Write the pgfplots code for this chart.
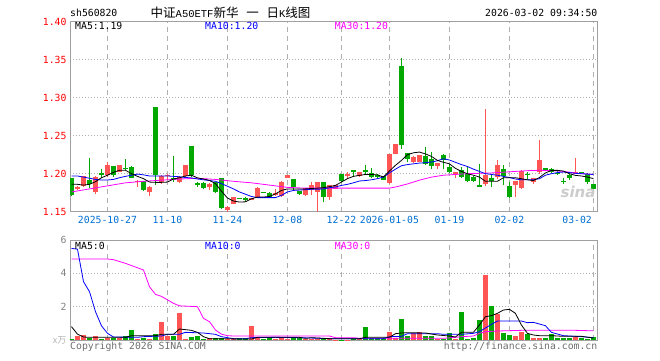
\documentclass[border=0pt]{standalone}
\usepackage{pgfplots}
\usepackage{pgfplotstable}
\pgfplotsset{compat=1.18}
\usepackage{fontspec}
\setmainfont{DejaVu Sans}
\newfontfamily\mono{DejaVu Sans Mono}
\newfontfamily\cmono{Liberation Mono}
\newfontfamily\cjk{Noto Sans CJK SC}
\definecolor{kred}{RGB}{255,85,85}
\definecolor{kgreen}{RGB}{0,168,0}
\definecolor{tickblue}{RGB}{0,110,210}
\definecolor{framegray}{RGB}{160,160,160}
\definecolor{gridgray}{RGB}{175,175,175}
\definecolor{txtgray}{RGB}{110,110,110}
\definecolor{mablue}{RGB}{0,0,255}
\definecolor{mamag}{RGB}{255,0,255}

\pgfplotstableread{
i o h l c v
1 1.1810 1.1840 1.1790 1.1825 0.24
2 1.1840 1.1975 1.1830 1.1970 0.30
4 1.1763 1.1965 1.1737 1.1956 0.24
6 1.1982 1.2158 1.1960 1.2114 0.14
8 1.2026 1.2118 1.2020 1.2114 0.10
11 1.1895 1.1920 1.1820 1.1908 0.06
13 1.1763 1.1840 1.1706 1.1825 0.06
15 1.1886 1.1980 1.1860 1.1970 1.08
16 1.1970 1.1995 1.1920 1.1985 0.24
18 1.1886 1.1970 1.1875 1.1960 1.62
19 1.1970 1.2120 1.1960 1.2114 0.06
23 1.1825 1.1875 1.1790 1.1868 0.10
26 1.1522 1.1570 1.1496 1.1568 0.04
27 1.1605 1.1700 1.1595 1.1698 0.04
30 1.1654 1.1680 1.1650 1.1676 0.86
31 1.1697 1.1822 1.1692 1.1816 0.10
34 1.1715 1.1803 1.1710 1.1740 0.04
35 1.1707 1.1905 1.1700 1.1895 0.14
36 1.1947 1.1985 1.1945 1.1983 0.06
39 1.1720 1.1815 1.1712 1.1808 0.06
40 1.1780 1.1890 1.1715 1.1850 0.04
41 1.1763 1.1895 1.1500 1.1895 0.04
43 1.1693 1.1846 1.1650 1.1846 0.10
44 1.1803 1.1846 1.1800 1.1846 0.02
46 1.1975 1.2025 1.1930 1.1990 0.02
48 1.1965 1.2018 1.1963 1.2017 0.06
53 1.1877 1.2254 1.1868 1.2254 0.48
54 1.2263 1.2388 1.2262 1.2386 0.10
57 1.2153 1.2228 1.2145 1.2219 0.44
58 1.2153 1.2245 1.2150 1.2241 0.46
61 1.2101 1.2145 1.2066 1.2140 0.06
64 1.2005 1.2022 1.1945 1.2018 0.06
69 1.1859 1.2850 1.1833 1.1978 3.92
71 1.1956 1.2176 1.1934 1.2110 1.56
74 1.1846 1.1903 1.1690 1.1903 0.24
75 1.1815 1.2044 1.1800 1.2035 0.50
77 1.1890 1.1947 1.1860 1.1947 0.14
78 1.2022 1.2440 1.2000 1.2185 0.10
84 1.2000 1.2211 1.1995 1.2022 0.20
}\upK

\pgfplotstableread{
i o h l c v
0 1.1940 1.1950 1.1710 1.1720 0.06
3 1.1915 1.2210 1.1810 1.1860 0.14
5 1.2005 1.2060 1.1950 1.1992 0.06
7 1.2100 1.2105 1.1960 1.1980 0.10
9 1.2080 1.2190 1.2050 1.2060 0.24
10 1.2090 1.2095 1.1940 1.1947 0.60
12 1.1904 1.1904 1.1772 1.1785 0.14
14 1.2877 1.2880 1.1850 1.1980 0.36
17 1.1947 1.2230 1.1895 1.1920 0.26
20 1.2364 1.2366 1.1960 1.1980 0.18
21 1.1875 1.1890 1.1830 1.1860 0.24
22 1.1877 1.1890 1.1800 1.1816 0.06
24 1.1890 1.1895 1.1746 1.1759 0.10
25 1.1938 1.1945 1.1530 1.1548 0.10
28 1.1682 1.1685 1.1665 1.1668 0.10
29 1.1684 1.1690 1.1630 1.1660 0.10
32 1.1762 1.1765 1.1748 1.1750 0.08
33 1.1748 1.1755 1.1685 1.1697 0.10
37 1.1930 1.1930 1.1776 1.1829 0.14
38 1.1772 1.1775 1.1720 1.1735 0.14
42 1.1895 1.1895 1.1630 1.1690 0.04
45 1.1995 1.2000 1.1890 1.1910 0.02
47 1.2044 1.2046 1.1956 1.2017 0.06
49 1.2045 1.2110 1.1985 1.2030 0.78
50 1.2013 1.2080 1.1943 1.1956 0.10
51 1.1975 1.1995 1.1940 1.1965 0.10
52 1.1965 1.1965 1.1915 1.1920 0.10
55 1.3412 1.3526 1.2330 1.2373 1.26
56 1.2276 1.2276 1.2153 1.2197 0.24
59 1.2228 1.2350 1.2110 1.2132 0.22
60 1.2197 1.2285 1.2066 1.2101 0.22
62 1.2241 1.2255 1.2066 1.2175 0.06
63 1.2088 1.2132 1.2013 1.2022 0.42
65 1.2044 1.2088 1.1947 1.1956 1.68
66 1.1991 1.2088 1.1890 1.1903 0.06
67 1.1956 1.1965 1.1890 1.1903 0.12
68 1.1845 1.2132 1.1824 1.1830 1.20
70 1.1947 1.1978 1.1824 1.1903 2.04
72 1.2066 1.2110 1.1846 1.1965 0.42
73 1.1833 1.1890 1.1683 1.1700 0.30
76 1.1995 1.2022 1.1934 1.1985 0.38
79 1.2072 1.2080 1.2048 1.2062 0.10
80 1.2066 1.2075 1.2009 1.2022 0.36
81 1.2015 1.2044 1.1978 1.2003 0.10
82 1.1905 1.1947 1.1867 1.1893 0.10
83 1.1978 1.2000 1.1912 1.1947 0.14
85 1.2015 1.2022 1.2000 1.2005 0.10
86 1.1991 1.2009 1.1868 1.1890 0.06
87 1.1868 1.1870 1.1800 1.1802 0.16
}\downK

\pgfplotstableread{
i ma
0 1.186
1 1.186
2 1.185
3 1.186
4 1.1895
5 1.1947
6 1.198
7 1.2018
8 1.2045
9 1.2045
10 1.200
11 1.1965
12 1.1935
13 1.189
14 1.1886
15 1.1886
16 1.189
17 1.193
18 1.1947
19 1.197
20 1.198
21 1.1945
22 1.193
23 1.1912
24 1.187
25 1.177
26 1.168
27 1.164
28 1.1627
29 1.163
30 1.167
31 1.1693
32 1.1693
33 1.170
34 1.1735
35 1.178
36 1.180
37 1.180
38 1.180
39 1.180
40 1.1805
41 1.181
42 1.1816
43 1.183
44 1.1846
45 1.189
46 1.1935
47 1.1965
48 1.1978
49 1.199
50 1.199
51 1.1985
52 1.1956
53 1.2035
54 1.211
55 1.2175
56 1.225
57 1.2275
58 1.2285
59 1.226
60 1.2228
61 1.2175
62 1.215
63 1.213
64 1.207
65 1.203
66 1.200
67 1.198
68 1.1956
69 1.190
70 1.190
71 1.190
72 1.1947
73 1.1947
74 1.1947
75 1.1934
76 1.192
77 1.191
78 1.195
79 1.201
80 1.2044
81 1.2044
82 1.2035
83 1.200
84 1.1978
85 1.197
86 1.1956
87 1.1935
}\maFive

\pgfplotstableread{
i ma
0 1.197
1 1.197
2 1.1955
3 1.194
4 1.1925
5 1.1917
6 1.1917
7 1.1925
8 1.1947
9 1.1965
10 1.198
11 1.1995
12 1.1985
13 1.197
14 1.197
15 1.197
16 1.197
17 1.1965
18 1.196
19 1.195
20 1.1945
21 1.193
22 1.192
23 1.191
24 1.190
25 1.187
26 1.1835
27 1.180
28 1.176
29 1.173
30 1.170
31 1.1685
32 1.1685
33 1.1685
34 1.1685
35 1.1715
36 1.176
37 1.178
38 1.1785
39 1.179
40 1.1795
41 1.1795
42 1.180
43 1.1815
44 1.1825
45 1.1846
46 1.186
47 1.188
48 1.1904
49 1.191
50 1.192
51 1.1935
52 1.1956
53 1.201
54 1.206
55 1.2105
56 1.212
57 1.213
58 1.214
59 1.2145
60 1.2154
61 1.217
62 1.2197
63 1.218
64 1.215
65 1.212
66 1.2095
67 1.206
68 1.203
69 1.200
70 1.199
71 1.198
72 1.1965
73 1.195
74 1.193
75 1.192
76 1.192
77 1.192
78 1.1934
79 1.198
80 1.200
81 1.2015
82 1.2022
83 1.2015
84 1.2005
85 1.200
86 1.1995
87 1.199
}\maTen

\pgfplotstableread{
i ma
0 1.176
3 1.180
6 1.184
9 1.188
12 1.190
15 1.1915
18 1.193
21 1.194
24 1.1925
27 1.190
30 1.188
33 1.185
36 1.182
39 1.181
53 1.181
54 1.1825
56 1.1865
58 1.1915
60 1.1955
62 1.198
64 1.199
66 1.200
68 1.2005
70 1.201
72 1.202
74 1.203
76 1.204
78 1.2045
80 1.204
82 1.203
84 1.201
86 1.1995
87 1.199
}\maThirty

\pgfplotstableread{
i ma
0 0.80
1 0.35
2 0.18
3 0.16
9 0.16
10 0.26
14 0.26
15 0.34
17 0.34
18 0.66
19 0.62
20 0.58
21 0.46
22 0.20
23 0.08
30 0.06
31 0.16
38 0.16
39 0.10
40 0.14
42 0.10
43 0.08
48 0.08
49 0.16
53 0.16
54 0.38
55 0.42
56 0.44
59 0.42
60 0.36
61 0.30
63 0.24
64 0.18
65 0.46
67 0.46
68 0.90
69 1.40
70 1.46
71 1.60
72 1.80
73 1.84
74 1.60
75 0.90
76 0.40
77 0.30
78 0.26
80 0.26
82 0.22
85 0.22
87 0.12
}\vmaFive

\pgfplotstableread{
i ma
0 5.50
1 5.45
2 3.50
3 2.90
4 1.70
5 0.85
6 0.40
7 0.18
11 0.16
12 0.20
15 0.24
16 0.34
18 0.34
19 0.46
22 0.42
24 0.34
25 0.20
26 0.14
27 0.08
29 0.08
30 0.14
34 0.16
38 0.14
43 0.08
52 0.08
53 0.20
55 0.22
56 0.38
61 0.38
62 0.34
65 0.34
67 0.40
68 0.50
70 0.94
71 1.14
75 1.14
76 1.04
77 1.06
79 0.86
80 0.46
82 0.26
85 0.20
87 0.14
}\vmaTen

\pgfplotstableread{
i ma
0 4.86
6 4.86
7 4.82
9 4.60
12 4.20
13 3.20
14 2.74
15 2.62
17 2.20
18 2.05
21 2.00
22 1.30
23 1.10
24 0.60
25 0.35
26 0.26
27 0.24
43 0.24
44 0.14
47 0.14
48 0.10
62 0.10
64 0.16
65 0.20
67 0.24
68 0.40
69 0.50
71 0.54
75 0.58
84 0.58
87 0.55
}\vmaThirty

\begin{document}
\begin{tikzpicture}
\pgfplotsset{
  kchart/.style={
    scale only axis, anchor=south west, width=527pt,
    xmin=-0.25, xmax=87.6,
    axis line style={framegray, line width=1pt},
    major tick length=0pt,
    xmajorgrids, ymajorgrids,
    x grid style={gridgray, line width=0.8pt, dash pattern=on 5pt off 4pt},
    y grid style={gridgray, line width=0.8pt, dash pattern=on 1pt off 2pt},
    /pgf/number format/assume math mode=true,
  },
  candle/.style n args={2}{draw=none, mark=none, forget plot,
    error bars/.cd, y dir=both, y explicit, error mark=none,
    error bar style={draw=#1, solid, line width=#2}},
}
% ---------- price panel ----------
\begin{axis}[kchart, at={(70pt,148.3pt)}, height=190pt,
  ymin=1.15, ymax=1.40,
  ytick={1.15,1.20,1.25,1.30,1.35,1.40},
  yticklabels={1.15,1.20,1.25,1.30,1.35,1.40},
  yticklabel style={font=\mono\fontsize{9.8}{10}\selectfont, text=red},
  xtick={6,16,26,36,45,53,63,73},
  xticklabels={2025-10-27,11-10,11-24,12-08,12-22,2026-01-05,01-19,02-02},
  xticklabel style={font=\mono\fontsize{9.8}{10}\selectfont, text=tickblue, yshift=-0.5pt},
  extra x ticks={87}, extra x tick labels={03-02},
  extra x tick style={grid=major, xticklabel style={anchor=north east, xshift=2pt}},
]
\addplot[candle={kred}{1pt}] table[x=i, y expr={(\thisrow{h}+\thisrow{l})/2}, y error expr={(\thisrow{h}-\thisrow{l})/2}] {\upK};
\addplot[candle={kgreen}{1pt}] table[x=i, y expr={(\thisrow{h}+\thisrow{l})/2}, y error expr={(\thisrow{h}-\thisrow{l})/2}] {\downK};
\addplot[candle={kred}{5pt}] table[x=i, y expr={(\thisrow{o}+\thisrow{c})/2}, y error expr={max(abs(\thisrow{c}-\thisrow{o})/2,0.00066)}] {\upK};
\addplot[candle={kgreen}{5pt}] table[x=i, y expr={(\thisrow{o}+\thisrow{c})/2}, y error expr={max(abs(\thisrow{c}-\thisrow{o})/2,0.00066)}] {\downK};
\addplot[mamag, line width=0.8pt, mark=none] table[x=i, y=ma] {\maThirty};
\addplot[mablue, line width=0.8pt, mark=none] table[x=i, y=ma] {\maTen};
\addplot[black, line width=0.8pt, mark=none] table[x=i, y=ma] {\maFive};
\end{axis}
% ---------- volume panel ----------
\begin{axis}[kchart, at={(70pt,20pt)}, height=100pt,
  ymin=0, ymax=6,
  ytick={0,2,4,6},
  yticklabels={{\color{gray!60}\cjk\fontsize{9}{10}\selectfont x万},2,4,6},
  yticklabel style={font=\mono\fontsize{9.8}{10}\selectfont, text=gray},
  xtick={6,16,26,36,45,53,63,73,87}, xticklabels={},
]
\addplot[ycomb, kred, line width=5pt, mark=none] table[x=i, y=v] {\upK};
\addplot[ycomb, kgreen, line width=5pt, mark=none] table[x=i, y=v] {\downK};
\addplot[mamag, line width=0.8pt, mark=none] table[x=i, y=ma] {\vmaThirty};
\addplot[mablue, line width=0.8pt, mark=none] table[x=i, y=ma] {\vmaTen};
\addplot[black, line width=0.8pt, mark=none] table[x=i, y=ma] {\vmaFive};
\end{axis}
% ---------- texts ----------
\begin{scope}[every node/.style={inner sep=0pt, font=\mono\fontsize{9.8}{10}\selectfont}]
\node[anchor=base west] at (70pt,343.3pt) {sh560820};
\node[anchor=base west, font=\cjk\fontsize{12.5}{13}\selectfont] at (150.5pt,343pt) {中证{\cmono\fontsize{10.5}{11}\selectfont A50ETF}新华\hspace{5pt} 一 \hspace{5pt}日{\cmono\fontsize{10.5}{11}\selectfont K}线图};
\node[anchor=base east] at (597.5pt,343.3pt) {2026-03-02 09:34:50};
\node[anchor=base west, text=black] at (75pt,330.7pt) {MA5:1.19};
\node[anchor=base west, text=mablue] at (205pt,330.7pt) {MA10:1.20};
\node[anchor=base west, text=mamag] at (334.7pt,330.7pt) {MA30:1.20};
\node[anchor=base west, text=black] at (75pt,110.7pt) {MA5:0};
\node[anchor=base west, text=mablue] at (205pt,110.7pt) {MA10:0};
\node[anchor=base west, text=mamag] at (334.7pt,110.7pt) {MA30:0};
\node[anchor=base west, text=txtgray] at (70pt,11pt) {Copyright 2026 SINA.COM};
\node[anchor=base east, text=txtgray] at (597.5pt,11pt) {http://finance.sina.com.cn};
\node[anchor=base, text=gray!40, font=\fontsize{15}{16}\selectfont\bfseries\itshape] at (578pt,163pt) {sina};
\end{scope}
\pgfresetboundingbox
\path[use as bounding box] (0,0) rectangle (660pt,360pt);
\end{tikzpicture}
\end{document}
